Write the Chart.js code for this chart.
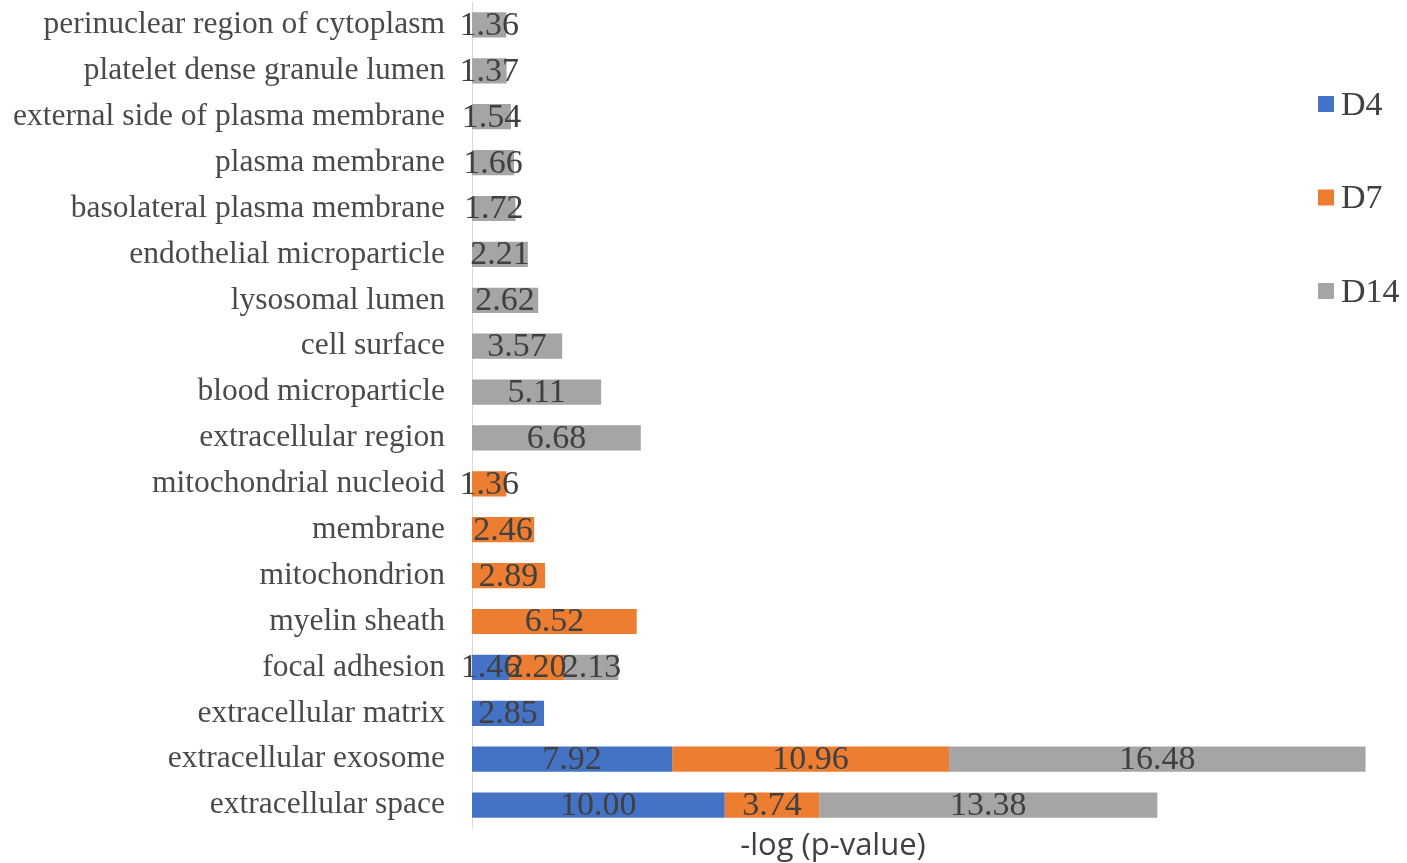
<!DOCTYPE html>
<html>
<head>
<meta charset="utf-8">
<script src="https://cdn.jsdelivr.net/npm/chart.js@4/dist/chart.umd.min.js"></script>
<style>
  html, body { margin: 0; padding: 0; background: #ffffff; }
  #wrap { position: relative; width: 1407px; height: 863px; }
</style>
</head>
<body>
<div id="wrap"><canvas id="c"></canvas></div>
<script>
// GO cellular component terms, top to bottom
const categories = [
  'perinuclear region of cytoplasm',
  'platelet dense granule lumen',
  'external side of plasma membrane',
  'plasma membrane',
  'basolateral plasma membrane',
  'endothelial microparticle',
  'lysosomal lumen',
  'cell surface',
  'blood microparticle',
  'extracellular region',
  'mitochondrial nucleoid',
  'membrane',
  'mitochondrion',
  'myelin sheath',
  'focal adhesion',
  'extracellular matrix',
  'extracellular exosome',
  'extracellular space'
];

// -log(p-value) per time point (null = term not enriched)
const d4Values  = [null, null, null, null, null, null, null, null, null, null, null, null, null, null, 1.46, 2.85, 7.92, 10.00];
const d7Values  = [null, null, null, null, null, null, null, null, null, null, 1.36, 2.46, 2.89, 6.52, 2.20, null, 10.96, 3.74];
const d14Values = [1.36, 1.37, 1.54, 1.66, 1.72, 2.21, 2.62, 3.57, 5.11, 6.68, null, null, null, null, 2.13, null, 16.48, 13.38];

const seriesNames  = ['D4', 'D7', 'D14'];
const seriesColors = ['#4472C4', '#ED7D31', '#A5A5A5'];
const xAxisTitle   = '-log (p-value)';

const textColor = '#404040';
const serif = '"Liberation Serif", "Times New Roman", serif';

// Values printed in the middle of each bar segment
const valueLabels = {
  id: 'valueLabels',
  afterDatasetsDraw(chart) {
    const ctx = chart.ctx;
    ctx.save();
    ctx.font = '34px ' + serif;
    ctx.fillStyle = textColor;
    ctx.textAlign = 'center';
    ctx.textBaseline = 'middle';
    chart.data.datasets.forEach((ds, i) => {
      const meta = chart.getDatasetMeta(i);
      meta.data.forEach((bar, j) => {
        const v = ds.data[j];
        if (v === null || v === undefined) return;
        const p = bar.getProps(['x', 'y', 'base'], true);
        ctx.fillText(v.toFixed(2), (p.x + p.base) / 2, p.y + 1);
      });
    });
    ctx.restore();
  }
};

// Vertical legend on the right and the axis caption under the plot
const sideLegend = {
  id: 'sideLegend',
  afterDraw(chart, args, opts) {
    const ctx = chart.ctx;
    ctx.save();
    ctx.textBaseline = 'middle';
    ctx.textAlign = 'left';
    chart.data.datasets.forEach((ds, i) => {
      const yc = opts.top + i * opts.step;
      ctx.fillStyle = ds.backgroundColor;
      ctx.fillRect(opts.left, yc - 8, 16, 16);
      ctx.fillStyle = textColor;
      ctx.font = '34px ' + serif;
      ctx.fillText(ds.label, opts.left + 23, yc + 2);
    });
    ctx.font = '31px "Open Sans", Lato, sans-serif';
    ctx.textAlign = 'center';
    ctx.fillStyle = textColor;
    ctx.fillText(xAxisTitle, opts.titleX, opts.titleY);
    ctx.restore();
  }
};

const datasets = [d4Values, d7Values, d14Values].map((vals, i) => ({
  label: seriesNames[i],
  data: vals,
  backgroundColor: seriesColors[i],
  borderWidth: 0,
  barPercentage: 0.55,
  categoryPercentage: 1.0
}));

new Chart(document.getElementById('c'), {
  type: 'bar',
  data: { labels: categories, datasets },
  plugins: [valueLabels, sideLegend],
  options: {
    indexAxis: 'y',
    responsive: true,
    maintainAspectRatio: false,
    animation: false,
    layout: { padding: { top: 2, left: 0, right: 0, bottom: 0 } },
    scales: {
      x: {
        stacked: true,
        min: 0,
        max: 37,
        grid: { display: false, drawTicks: false },
        border: { display: false },
        ticks: { display: false },
        afterFit(scale) { scale.height = 35; }
      },
      y: {
        stacked: true,
        grid: { display: false, drawTicks: false },
        border: { display: true, color: '#d9d9d9', width: 1 },
        ticks: {
          color: '#4a4a4a',
          padding: 27,
          font: { family: serif, size: 31.5 }
        },
        afterFit(scale) {
          scale.width = 472;
          scale.paddingTop = 0;
          scale.paddingBottom = 0;
        }
      }
    },
    plugins: {
      legend: { display: false },
      tooltip: { enabled: false },
      sideLegend: { left: 1318, top: 104, step: 93.5, titleX: 833, titleY: 846 }
    }
  }
});
</script>
</body>
</html>
